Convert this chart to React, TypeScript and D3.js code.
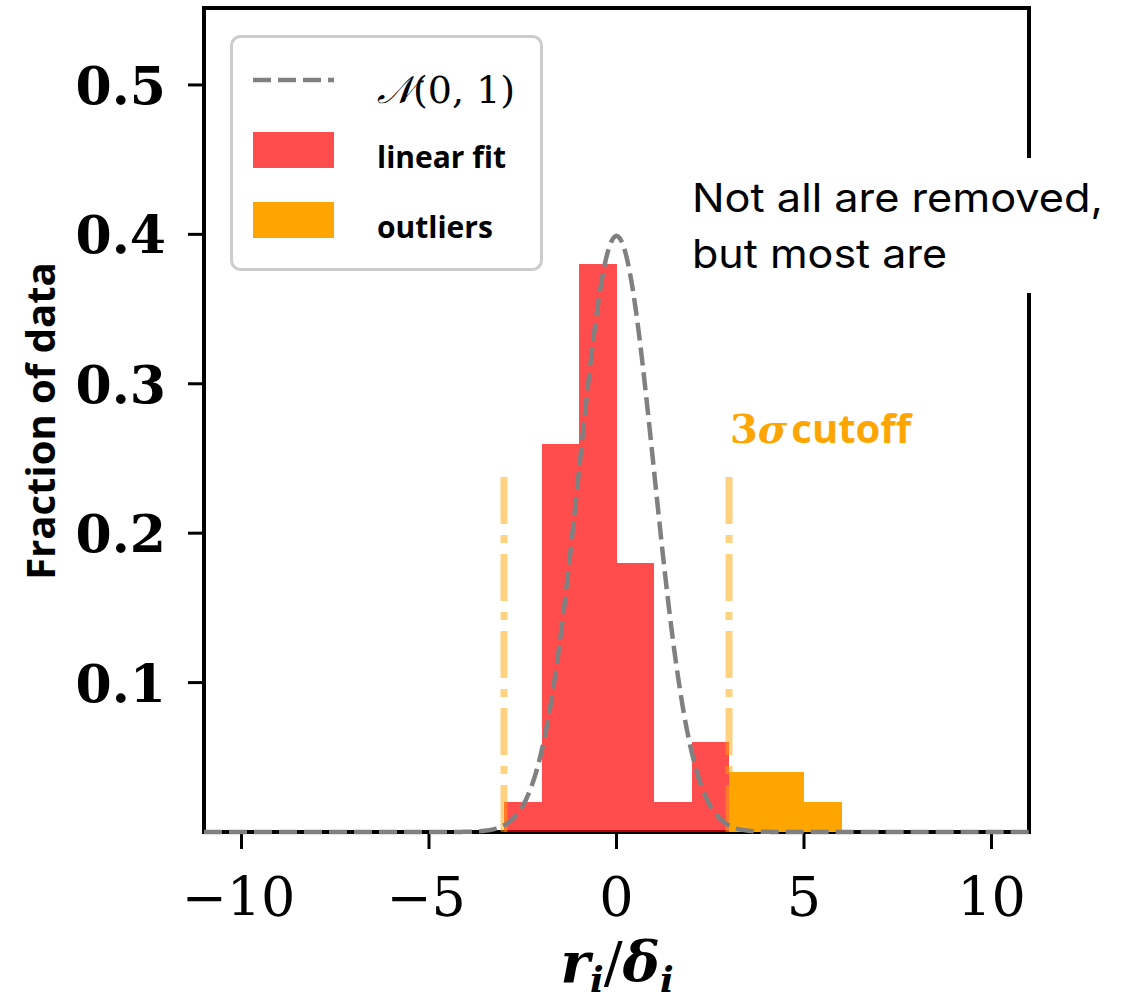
import React from "react";
import * as d3 from "d3";

// histogram of normalised residuals, bin width 1
const fitBinStarts = [-3, -2, -1, 0, 1, 2];
const fitFractions = [0.02, 0.26, 0.38, 0.18, 0.02, 0.06];
const outlierBinStarts = [3, 4, 5];
const outlierFractions = [0.04, 0.04, 0.02];
const binWidth = 1;

// reference normal N(mu, sigma)
const normalMu = 0;
const normalSigma = 1;

// 3 sigma cutoff markers
const cutoffs = [-3, 3];
const cutoffTop = 0.245;

const xTicks = [-10, -5, 0, 5, 10];
const yTicks = [0.1, 0.2, 0.3, 0.4, 0.5];

const W = 1122;
const H = 1000;

const x = d3.scaleLinear().domain([-11, 11]).range([204, 1029]);
const y = d3.scaleLinear().domain([0, 0.5515]).range([832, 8]);

const RED = "#ff0000";
const ORANGE = "#ffa500";
const GREY = "#808080";

const pdf = (v: number) =>
  Math.exp(-0.5 * ((v - normalMu) / normalSigma) ** 2) / (normalSigma * Math.sqrt(2 * Math.PI));

const fmt = (t: number) => (t < 0 ? "\u2212" + Math.abs(t) : String(t));

export default function App() {
  const [x0, x1] = x.domain();
  const curvePts = d3.range(x0, x1 + 0.001, 0.04).map((v) => [v, pdf(v)] as [number, number]);
  const curve = d3.line<[number, number]>()
    .x((d) => x(d[0]))
    .y((d) => y(d[1]))(curvePts) || "";

  const left = x.range()[0];
  const right = x.range()[1];
  const bottom = y.range()[0];
  const top = y.range()[1];

  return (
    <svg width={W} height={H} style={{ position: "absolute", left: 0, top: 0, background: "#fff" }}>
      {/* spines */}
      <rect x={left} y={top} width={right - left} height={bottom - top}
        fill="none" stroke="#000" strokeWidth={4} />

      {/* y ticks */}
      {yTicks.map((t) => (
        <g key={"y" + t}>
          <line x1={left - 16} x2={left} y1={y(t)} y2={y(t)} stroke="#000" strokeWidth={3} />
          <text x={166} y={y(t) + 19} textAnchor="end" fontFamily="DejaVu Serif" fontWeight="bold"
            fontSize={52} fill="#000">{t.toFixed(1)}</text>
        </g>
      ))}

      {/* x ticks */}
      {xTicks.map((t) => (
        <g key={"x" + t}>
          <line x1={x(t)} x2={x(t)} y1={bottom} y2={bottom + 17} stroke="#000" strokeWidth={3} />
          <text x={x(t) - (t < 0 ? 3 : 0)} y={916} textAnchor="middle" fontFamily="DejaVu Serif"
            fontSize={54} fill="#000">{fmt(t)}</text>
        </g>
      ))}

      {/* histogram bars */}
      <g shapeRendering="crispEdges">
        {fitBinStarts.map((b, i) => (
          <rect key={"r" + b} x={x(b)} y={y(fitFractions[i])} width={x(b + binWidth) - x(b)}
            height={y(0) - y(fitFractions[i])} fill={RED} fillOpacity={0.7} />
        ))}
        {outlierBinStarts.map((b, i) => (
          <rect key={"o" + b} x={x(b)} y={y(outlierFractions[i])} width={x(b + binWidth) - x(b)}
            height={y(0) - y(outlierFractions[i])} fill={ORANGE} />
        ))}
      </g>

      {/* cutoff lines */}
      {cutoffs.map((c) => (
        <line key={"c" + c} x1={x(c)} x2={x(c)} y1={y(0)} y2={y(cutoffTop)}
          stroke={ORANGE} strokeOpacity={0.5} strokeWidth={7} strokeDasharray="47 11 8 11" />
      ))}

      {/* normal curve */}
      <path d={curve} fill="none" stroke={GREY} strokeWidth={4.5} strokeDasharray="18 7" />

      {/* cutoff label */}
      <text x={730} y={443} fill={ORANGE} fontSize={40}>
        <tspan fontFamily="DejaVu Serif" fontWeight="bold">3</tspan>
        <tspan fontFamily="DejaVu Serif" fontStyle="italic" fontWeight="bold">σ</tspan>
        <tspan fontFamily="Open Sans" fontWeight="bold" dx={4}>cutoff</tspan>
      </text>

      {/* legend */}
      <rect x={231.5} y={36.5} width={310} height={233} rx={9} fill="#fff" stroke="#cccccc" strokeWidth={3} />
      <line x1={253} x2={334} y1={80} y2={80} stroke={GREY} strokeWidth={4.5} strokeDasharray="18 7" />
      <text x={377} y={103} fontFamily="DejaVu Serif" fontSize={38} fill="#000">
        <tspan fontStyle="italic">𝒩</tspan>(0, 1)
      </text>
      <rect x={253} y={132} width={81} height={36} fill={RED} fillOpacity={0.7} />
      <text x={377} y={168} fontFamily="Open Sans" fontWeight="bold" fontSize={30} fill="#000">linear fit</text>
      <rect x={253} y={202} width={81} height={36} fill={ORANGE} />
      <text x={377} y={238} fontFamily="Open Sans" fontWeight="bold" fontSize={30} fill="#000">outliers</text>

      {/* axis labels */}
      <text transform="translate(55,421) rotate(-90)" textAnchor="middle" fontFamily="Open Sans"
        fontWeight="bold" fontSize={40} fill="#000">Fraction of data</text>
      <text x={617} y={982} textAnchor="middle" fontFamily="DejaVu Serif" fontSize={56} fill="#000">
        <tspan fontStyle="italic" fontWeight="bold">r</tspan>
        <tspan fontStyle="italic" fontWeight="bold" fontSize={36} dy={10}>i</tspan>
        <tspan dy={-10}>/</tspan>
        <tspan fontStyle="italic" fontWeight="bold">δ</tspan>
        <tspan fontStyle="italic" fontWeight="bold" fontSize={36} dy={10}>i</tspan>
      </text>

      {/* annotation */}
      <rect x={680} y={158} width={W - 680} height={135} fill="#fff" />
      <text x={692} y={212} fontFamily="Inter" fontSize={40} fill="#000" textLength={411}
        lengthAdjust="spacingAndGlyphs">Not all are removed,</text>
      <text x={692} y={268} fontFamily="Inter" fontSize={40} fill="#000" textLength={255}
        lengthAdjust="spacingAndGlyphs">but most are</text>
    </svg>
  );
}
